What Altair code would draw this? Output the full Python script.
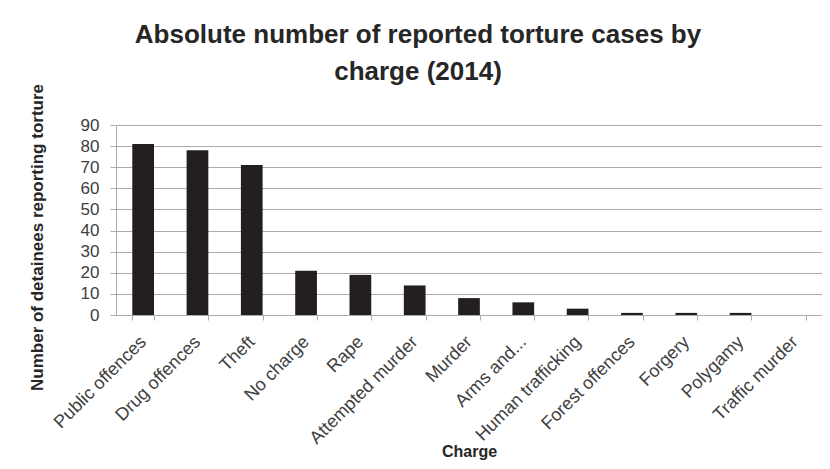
import altair as alt
import pandas as pd

charges = [
    "Public offences", "Drug offences", "Theft", "No charge", "Rape",
    "Attempted murder", "Murder", "Arms and...", "Human trafficking",
    "Forest offences", "Forgery", "Polygamy", "Traffic murder",
]
detainees = [81, 78, 71, 21, 19, 14, 8, 6, 3, 1, 1, 1, 0]
y_ticks = [0, 10, 20, 30, 40, 50, 60, 70, 80, 90]
title_lines = ["Absolute number of reported torture cases by", "charge (2014)"]

df = pd.DataFrame({"charge": charges, "count": detainees})

FONT = "Liberation Sans"
GRID = "#ababab"
TEXT = "#404040"

chart = (
    alt.Chart(df)
    .mark_bar(color="#231f20")
    .encode(
        x=alt.X(
            "charge:N",
            sort=charges,
            scale=alt.Scale(paddingInner=0.6, paddingOuter=0.3),
            axis=alt.Axis(
                title="Charge",
                labelAngle=-45,
                labelAlign="right",
                labelBaseline="middle",
                labelPadding=19,
                labelFont=FONT,
                labelFontSize=18,
                labelColor=TEXT,
                labelLimit=300,
                tickBand="extent",
                tickSize=5,
                tickColor=GRID,
                domainColor=GRID,
                titleFont=FONT,
                titleFontSize=16,
                titleFontWeight="bold",
                titleColor="#262626",
                titleY=144,
                titleBaseline="bottom",
            ),
        ),
        y=alt.Y(
            "count:Q",
            scale=alt.Scale(domain=[0, 90], nice=False),
            axis=alt.Axis(
                title="Number of detainees reporting torture",
                values=y_ticks,
                labelFont=FONT,
                labelFontSize=17,
                labelColor=TEXT,
                labelPadding=11,
                tickSize=6,
                tickColor=GRID,
                domainColor=GRID,
                gridColor=GRID,
                gridWidth=1,
                titleFont=FONT,
                titleFontSize=17,
                titleFontWeight="bold",
                titleColor="#262626",
                titleX=-79,
                titleY=112,
                titleAlign="center",
                titleBaseline="middle",
                titleAngle=-90,
            ),
        ),
    )
    .properties(
        width=706,
        height=190,
        padding={"left": 108, "top": 117, "right": 0, "bottom": 146},
        autosize=alt.AutoSizeParams(type="none"),
        title=alt.TitleParams(
            text=title_lines,
            font=FONT,
            fontSize=26,
            fontWeight="bold",
            color="#262626",
            anchor="middle",
            dx=-51,
            dy=18,
            lineHeight=37,
            offset=17,
        ),
    )
    .configure_view(stroke=None)
    .configure(background="white")
)

chart.save("out.html", embed_options={"renderer": "svg", "actions": False})
